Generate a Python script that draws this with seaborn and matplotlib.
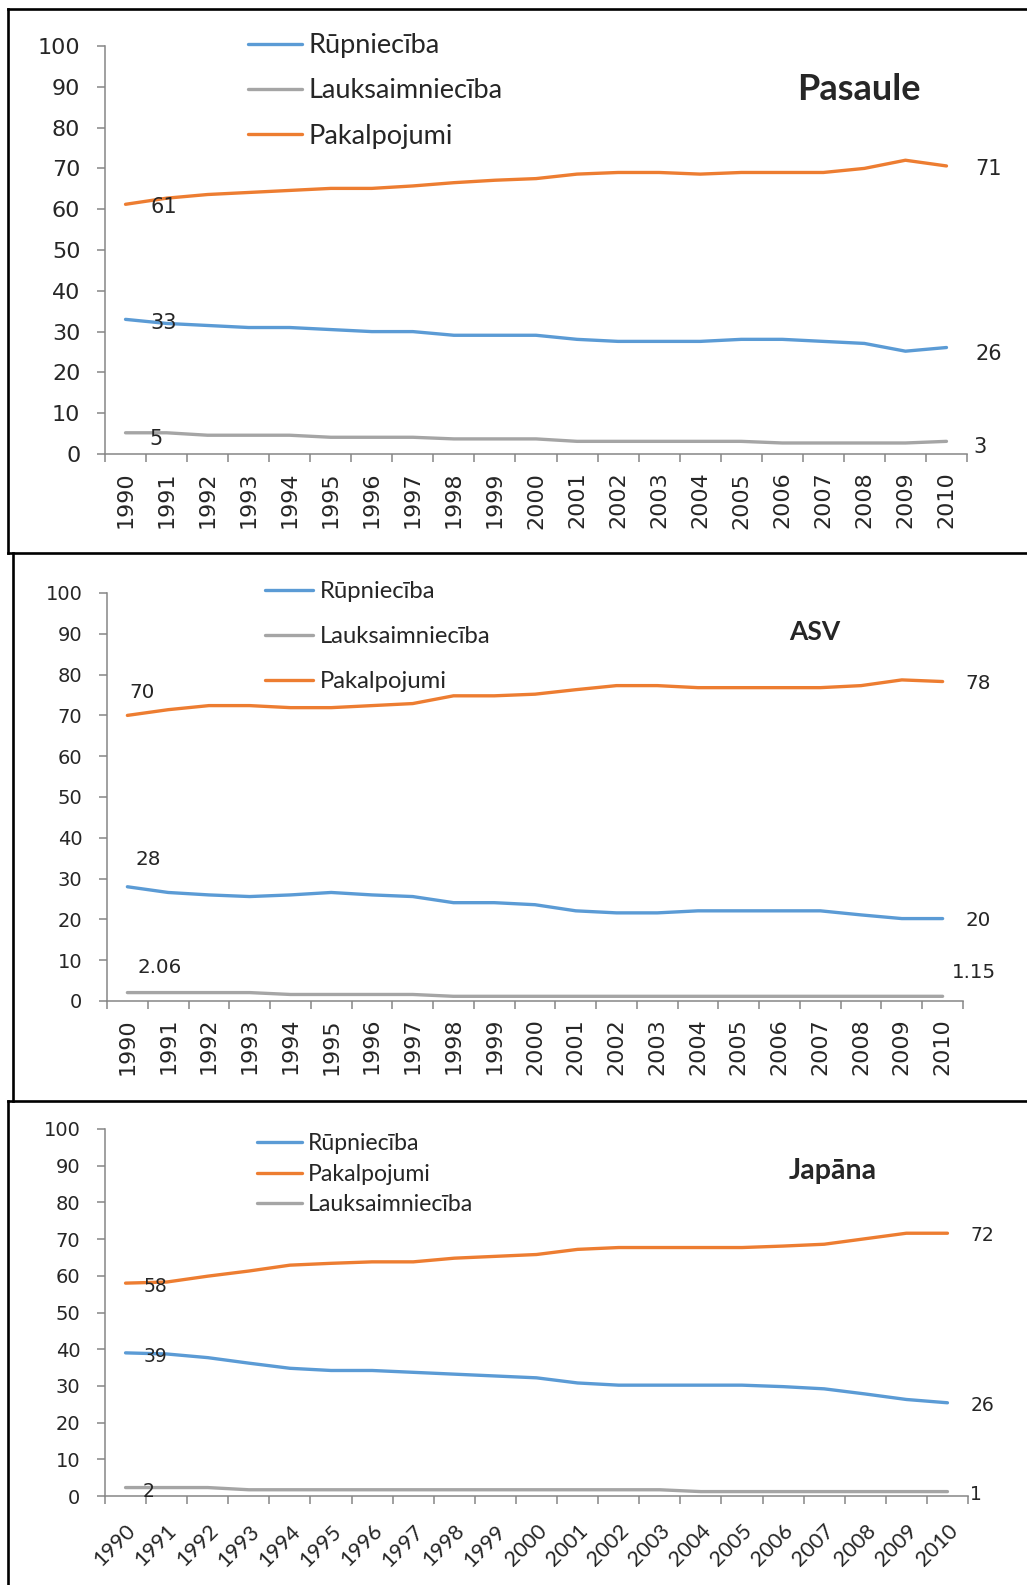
import matplotlib
matplotlib.use("Agg")
import matplotlib.pyplot as plt
from matplotlib.lines import Line2D
import seaborn as sns
import pandas as pd

sns.set_style("white")
plt.rcParams["font.family"] = ["Lato", "DejaVu Sans"]

# ---------------- data ----------------
years = [str(y) for y in range(1990, 2011)]

series_names = ["Rūpniecība", "Lauksaimniecība", "Pakalpojumi"]
colors = {"Rūpniecība": "#5B9BD5", "Lauksaimniecība": "#A5A5A5", "Pakalpojumi": "#ED7D31"}

# Pasaule
world_industry = [33.0, 32.0, 31.5, 31.0, 31.0, 30.5, 30.0, 30.0, 29.1, 29.1, 29.1,
                  28.1, 27.6, 27.6, 27.6, 28.1, 28.1, 27.6, 27.1, 25.2, 26.1]
world_agri = [5.2, 5.2, 4.6, 4.6, 4.6, 4.1, 4.1, 4.1, 3.7, 3.7, 3.7,
              3.1, 3.1, 3.1, 3.1, 3.1, 2.7, 2.7, 2.7, 2.7, 3.1]
world_services = [61.2, 62.7, 63.6, 64.1, 64.6, 65.1, 65.1, 65.7, 66.5, 67.1, 67.5,
                  68.6, 69.0, 69.0, 68.6, 69.0, 69.0, 69.0, 70.0, 72.0, 70.6]

# ASV
usa_industry = [28.0, 26.6, 26.0, 25.6, 26.0, 26.6, 26.0, 25.6, 24.1, 24.1, 23.6,
                22.1, 21.6, 21.6, 22.1, 22.1, 22.1, 22.1, 21.1, 20.2, 20.2]
usa_agri = [2.06, 2.06, 2.06, 2.06, 1.6, 1.6, 1.6, 1.6, 1.15, 1.15, 1.15,
            1.15, 1.15, 1.15, 1.15, 1.15, 1.15, 1.15, 1.15, 1.15, 1.15]
usa_services = [70.0, 71.4, 72.4, 72.4, 71.9, 71.9, 72.4, 72.9, 74.8, 74.8, 75.2,
                76.3, 77.3, 77.3, 76.8, 76.8, 76.8, 76.8, 77.3, 78.7, 78.3]

# Japāna
japan_industry = [39.0, 38.7, 37.7, 36.2, 34.8, 34.2, 34.2, 33.7, 33.2, 32.7, 32.2,
                  30.8, 30.2, 30.2, 30.2, 30.2, 29.8, 29.2, 27.8, 26.3, 25.4]
japan_agri = [2.3, 2.3, 2.3, 1.7, 1.7, 1.7, 1.7, 1.7, 1.7, 1.7, 1.7,
              1.7, 1.7, 1.7, 1.2, 1.2, 1.2, 1.2, 1.2, 1.2, 1.2]
japan_services = [58.0, 58.3, 59.9, 61.3, 62.9, 63.4, 63.8, 63.8, 64.8, 65.3, 65.8,
                  67.2, 67.7, 67.7, 67.7, 67.7, 68.1, 68.6, 70.1, 71.6, 71.6]

titles = ["Pasaule", "ASV", "Japāna"]
first_labels = [["33", "5", "61"], ["28", "2.06", "70"], ["39", "2", "58"]]
last_labels = [["26", "3", "71"], ["20", "1.15", "78"], ["26", "1", "72"]]

panels = [
    {"Rūpniecība": world_industry, "Lauksaimniecība": world_agri, "Pakalpojumi": world_services},
    {"Rūpniecība": usa_industry, "Lauksaimniecība": usa_agri, "Pakalpojumi": usa_services},
    {"Rūpniecība": japan_industry, "Lauksaimniecība": japan_agri, "Pakalpojumi": japan_services},
]
legend_orders = [
    ["Rūpniecība", "Lauksaimniecība", "Pakalpojumi"],
    ["Rūpniecība", "Lauksaimniecība", "Pakalpojumi"],
    ["Rūpniecība", "Pakalpojumi", "Lauksaimniecība"],
]

# ---------------- layout (pixels) ----------------
W, H = 1027, 1585
fig = plt.figure(figsize=(W / 100, H / 100), dpi=100)
PX = 0.72  # points per pixel
NUMFONT = "DejaVu Sans"


def rect(left, right, top, bottom):
    return [left / W, 1 - bottom / H, (right - left) / W, (bottom - top) / H]


axes_px = [(105, 967, 46, 454), (107, 963, 593, 1001), (105, 968, 1129, 1496)]

styles = [
    dict(legend_xy=(248, 33), legend_fs=19.5, ls=0.75, hl=1.98, title_xy=(859, 89), title_fs=26,
         xrot=90, xfont="DejaVu Sans", xfs=16, xpad=12.7, ytick_fs=16, lab_fs=15,
         first_off=[(38, 4), (30, 6), (38, 3)], last_off=[(42, 6), (34, 6), (42, 3)]),
    dict(legend_xy=(265, 581), legend_fs=17.2, ls=1.01, hl=2.03, title_xy=(815, 632), title_fs=19,
         xrot=90, xfont="DejaVu Sans", xfs=16, xpad=12.2, ytick_fs=14, lab_fs=14.3,
         first_off=[(21, -27), (32, -25), (15, -23)], last_off=[(36, 2), (31, -24), (36, 2)]),
    dict(legend_xy=(257, 1133), legend_fs=16.6, ls=0.42, hl=1.97, title_xy=(833, 1171), title_fs=20.5,
         xrot=45, xfont="Lato", xfs=15.5, xpad=18, ytick_fs=14, lab_fs=13.5,
         first_off=[(30, 4), (23, 4), (30, 3)], last_off=[(35, 3), (28, 3), (35, 2)]),
]

axis_grey = "#868686"

for i, (data, st) in enumerate(zip(panels, styles)):
    ax = fig.add_axes(rect(*axes_px[i]))
    rows = []
    for name in series_names:
        for j, v in enumerate(data[name]):
            rows.append({"idx": j, "value": v, "Sektors": name})
    df = pd.DataFrame(rows)
    sns.lineplot(data=df, x="idx", y="value", hue="Sektors", hue_order=legend_orders[i],
                 palette=colors, linewidth=2.4, ax=ax, legend="auto",
                 solid_capstyle="round")
    old = ax.get_legend()
    handles = old.legend_handles
    labels = [t.get_text() for t in old.get_texts()]
    old.remove()
    for h in handles:
        h.set_linewidth(2.4)
    lx, ly = st["legend_xy"]
    ax.legend(handles, labels, loc="upper left", bbox_to_anchor=(lx / W, 1 - ly / H),
              bbox_transform=fig.transFigure, frameon=False, borderpad=0, borderaxespad=0,
              fontsize=st["legend_fs"], labelspacing=st["ls"], handlelength=st["hl"],
              handletextpad=0.25)

    ax.set_xlim(-0.5, len(years) - 0.5)
    ax.set_ylim(0, 100)
    ax.set_xlabel("")
    ax.set_ylabel("")
    ax.set_yticks(range(0, 101, 10))
    ax.set_yticklabels([str(v) for v in range(0, 101, 10)], fontfamily=NUMFONT,
                       fontsize=st["ytick_fs"])
    ax.set_xticks(range(len(years)))
    ax.set_xticks([k - 0.5 for k in range(len(years) + 1)], minor=True)
    if st["xrot"] == 90:
        ax.set_xticklabels(years, rotation=90, fontfamily=st["xfont"], fontsize=st["xfs"])
    else:
        ax.set_xticklabels(years, rotation=45, ha="right", rotation_mode="anchor",
                           va="top", fontfamily=st["xfont"], fontsize=st["xfs"])
    ax.tick_params(axis="x", which="major", length=0, pad=st["xpad"])
    ax.tick_params(axis="x", which="minor", length=8 * PX, width=1.1, color=axis_grey,
                   direction="out", bottom=True)
    ax.tick_params(axis="y", which="major", length=8 * PX, width=1.1, color=axis_grey,
                   direction="out", left=True, pad=12)
    for s in ["top", "right"]:
        ax.spines[s].set_visible(False)
    for s in ["left", "bottom"]:
        ax.spines[s].set_color(axis_grey)
        ax.spines[s].set_linewidth(1.1)
    ax.set_facecolor("none")

    # data labels
    for k, name in enumerate(series_names):
        vals = data[name]
        dx, dy = st["first_off"][k]
        ax.annotate(first_labels[i][k], xy=(0, vals[0]), xytext=(dx * PX, -dy * PX),
                    textcoords="offset points", ha="center", va="center",
                    fontsize=st["lab_fs"], fontfamily=NUMFONT)
        dx, dy = st["last_off"][k]
        ax.annotate(last_labels[i][k], xy=(len(vals) - 1, vals[-1]), xytext=(dx * PX, -dy * PX),
                    textcoords="offset points", ha="center", va="center",
                    fontsize=st["lab_fs"], fontfamily=NUMFONT)

    tx, ty = st["title_xy"]
    fig.text(tx / W, 1 - ty / H, titles[i], ha="center", va="center", fontsize=st["title_fs"],
             fontweight="bold")

# ---------------- panel borders ----------------
def fline(x0, y0, x1, y1):
    fig.add_artist(Line2D([x0 / W, x1 / W], [1 - y0 / H, 1 - y1 / H], color="black",
                          linewidth=1.9, transform=fig.transFigure, solid_capstyle="projecting"))

fline(8, 9, 1040, 9)
fline(8, 9, 8, 553)
fline(8, 553, 1040, 553)
fline(13, 553, 13, 1101)
fline(8, 1101, 1040, 1101)
fline(8, 1101, 8, 1600)

fig.savefig("out.png", dpi=100)
